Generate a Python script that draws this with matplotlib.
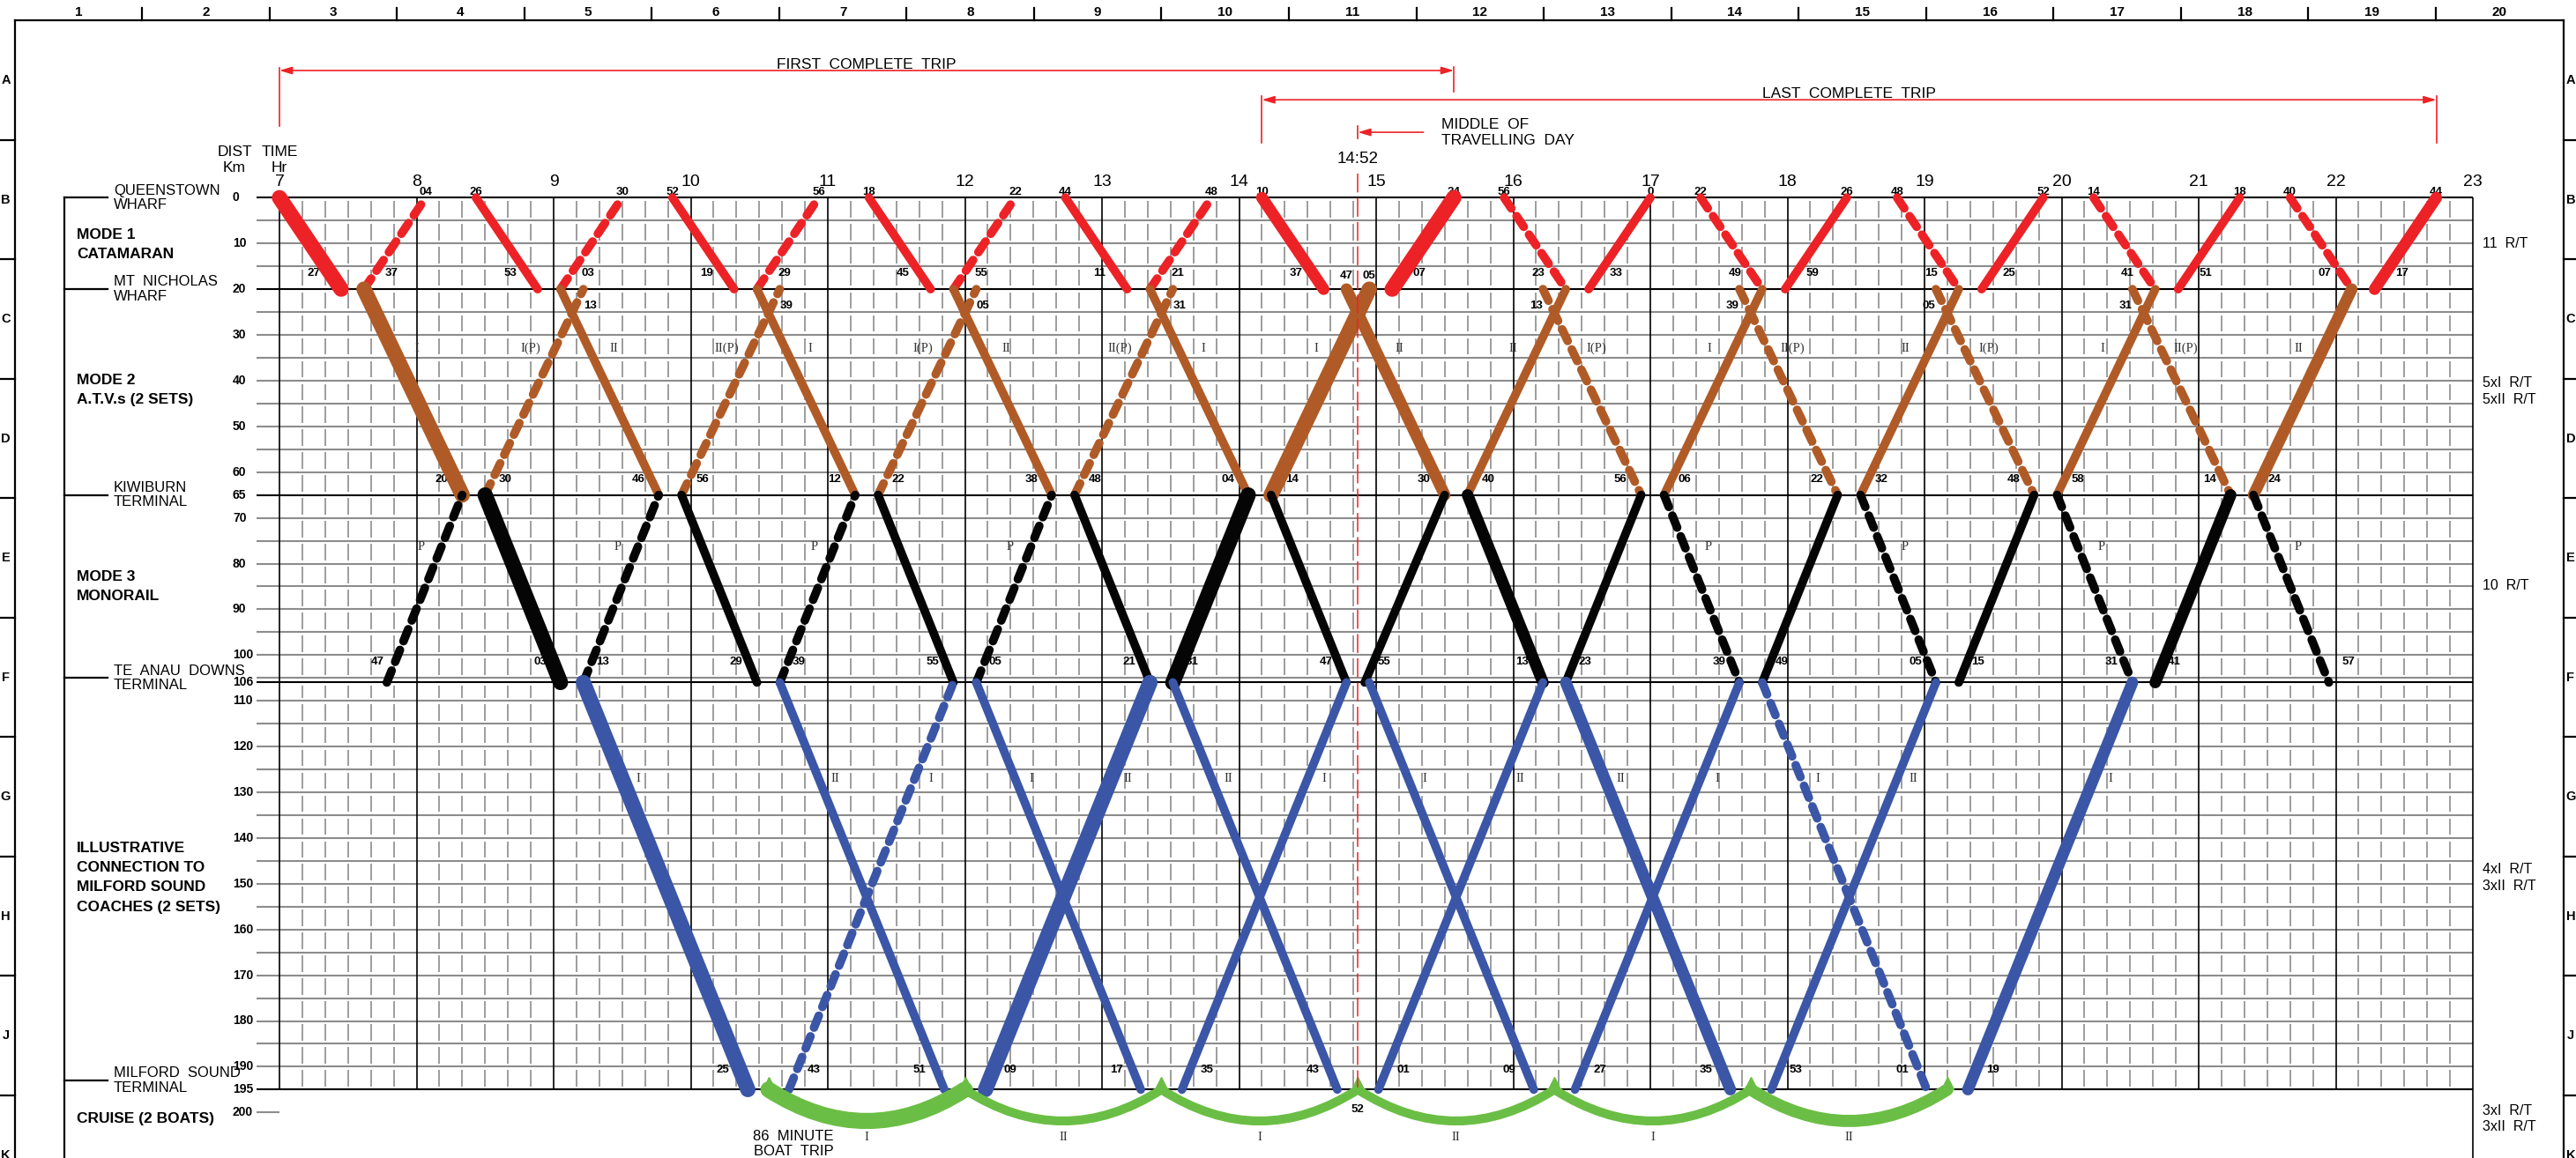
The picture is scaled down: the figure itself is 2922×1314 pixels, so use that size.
import matplotlib
matplotlib.use("Agg")
import matplotlib.pyplot as plt
from matplotlib import font_manager
from matplotlib.patches import FancyArrowPatch

# ---------------------------------------------------------------
# Timetable
# leg: (depart, arrive, from_km, to_km, style[, set])
# style: "solid", "dash" (positioning run), "first"/"last" complete trip
# ---------------------------------------------------------------
CAT_TRIPS = [
    ("7:00", "7:27", 0, 20, "first"),
    ("7:37", "8:04", 20, 0, "dash"),
    ("8:26", "8:53", 0, 20, "solid"),
    ("9:03", "9:30", 20, 0, "dash"),
    ("9:52", "10:19", 0, 20, "solid"),
    ("10:29", "10:56", 20, 0, "dash"),
    ("11:18", "11:45", 0, 20, "solid"),
    ("11:55", "12:22", 20, 0, "dash"),
    ("12:44", "13:11", 0, 20, "solid"),
    ("13:21", "13:48", 20, 0, "dash"),
    ("14:10", "14:37", 0, 20, "last"),
    ("15:07", "15:34", 20, 0, "first"),
    ("15:56", "16:23", 0, 20, "dash"),
    ("16:33", "17:00", 20, 0, "solid"),
    ("17:22", "17:49", 0, 20, "dash"),
    ("17:59", "18:26", 20, 0, "solid"),
    ("18:48", "19:15", 0, 20, "dash"),
    ("19:25", "19:52", 20, 0, "solid"),
    ("20:14", "20:41", 0, 20, "dash"),
    ("20:51", "21:18", 20, 0, "solid"),
    ("21:40", "22:07", 0, 20, "dash"),
    ("22:17", "22:44", 20, 0, "last"),
]

ATV_TRIPS = [
    ("7:37", "8:20", 20, 65, "first", "I"),
    ("8:30", "9:13", 65, 20, "dash", "I"),
    ("9:03", "9:46", 20, 65, "solid", "II"),
    ("9:56", "10:39", 65, 20, "dash", "II"),
    ("10:29", "11:12", 20, 65, "solid", "I"),
    ("11:22", "12:05", 65, 20, "dash", "I"),
    ("11:55", "12:38", 20, 65, "solid", "II"),
    ("12:48", "13:31", 65, 20, "dash", "II"),
    ("13:21", "14:04", 20, 65, "solid", "I"),
    ("14:14", "14:57", 65, 20, "first", "I"),
    ("14:47", "15:30", 20, 65, "last", "II"),
    ("15:40", "16:23", 65, 20, "solid", "II"),
    ("16:13", "16:56", 20, 65, "dash", "I"),
    ("17:06", "17:49", 65, 20, "solid", "I"),
    ("17:39", "18:22", 20, 65, "dash", "II"),
    ("18:32", "19:15", 65, 20, "solid", "II"),
    ("19:05", "19:48", 20, 65, "dash", "I"),
    ("19:58", "20:41", 65, 20, "solid", "I"),
    ("20:31", "21:14", 20, 65, "dash", "II"),
    ("21:24", "22:07", 65, 20, "last", "II"),
]

MONO_TRIPS = [
    ("7:47", "8:20", 106, 65, "dash"),
    ("8:30", "9:03", 65, 106, "first"),
    ("9:13", "9:46", 106, 65, "dash"),
    ("9:56", "10:29", 65, 106, "solid"),
    ("10:39", "11:12", 106, 65, "dash"),
    ("11:22", "11:55", 65, 106, "solid"),
    ("12:05", "12:38", 106, 65, "dash"),
    ("12:48", "13:21", 65, 106, "solid"),
    ("13:31", "14:04", 106, 65, "first"),
    ("14:14", "14:47", 65, 106, "solid"),
    ("14:55", "15:30", 106, 65, "solid"),
    ("15:40", "16:13", 65, 106, "last"),
    ("16:23", "16:56", 106, 65, "solid"),
    ("17:06", "17:39", 65, 106, "dash"),
    ("17:49", "18:22", 106, 65, "solid"),
    ("18:32", "19:05", 65, 106, "dash"),
    ("19:15", "19:48", 106, 65, "solid"),
    ("19:58", "20:31", 65, 106, "dash"),
    ("20:41", "21:14", 106, 65, "last"),
    ("21:24", "21:57", 65, 106, "dash"),
]

COACH_TRIPS = [
    ("9:13", "10:25", 106, 195, "first", "I"),
    ("10:39", "11:51", 106, 195, "solid", "II"),
    ("10:43", "11:55", 195, 106, "dash", "I"),
    ("12:05", "13:17", 106, 195, "solid", "I"),
    ("12:09", "13:21", 195, 106, "first", "II"),
    ("13:31", "14:43", 106, 195, "solid", "II"),
    ("13:35", "14:47", 195, 106, "solid", "I"),
    ("14:57", "16:09", 106, 195, "solid", "I"),
    ("15:01", "16:13", 195, 106, "solid", "II"),
    ("16:23", "17:35", 106, 195, "last", "II"),
    ("16:27", "17:39", 195, 106, "solid", "I"),
    ("17:49", "19:01", 106, 195, "dash", "I"),
    ("17:53", "19:05", 195, 106, "solid", "II"),
    ("19:19", "20:31", 195, 106, "last", "I"),
]

# cruise: (leave wharf, back at wharf, style, boat)
BOAT_TRIPS = [
    ("10:34", "12:00", "first", "I"),
    ("12:00", "13:26", "solid", "II"),
    ("13:26", "14:52", "solid", "I"),
    ("14:52", "16:18", "solid", "II"),
    ("16:18", "17:44", "solid", "I"),
    ("17:44", "19:10", "last", "II"),
]

HOURS = list(range(7, 24))
DIST_TICKS = [0, 10, 20, 30, 40, 50, 60, 65, 70, 80, 90, 100, 106, 110, 120,
              130, 140, 150, 160, 170, 180, 190, 195, 200]
TERMINAL_KM = [0, 20, 65, 106, 195]
GRID_KM = list(range(0, 196, 5)) + [106]
MIDDAY = "14:52"
MARK_TEXT = {"17:00": "0"}                  # as printed on the chart
MN_MID_MARKS = [("47", "14:47"), ("05", "14:57")]

STATIONS = [(["QUEENSTOWN", "WHARF"], 0), (["MT  NICHOLAS", "WHARF"], 20),
            (["KIWIBURN", "TERMINAL"], 65), (["TE  ANAU  DOWNS", "TERMINAL"], 105),
            (["MILFORD  SOUND", "TERMINAL"], 193)]
MODES = [(["MODE 1", "CATAMARAN"], 10.2), (["MODE 2", "A.T.V.s (2 SETS)"], 42.1),
         (["MODE 3", "MONORAIL"], 85.0),
         (["ILLUSTRATIVE", "CONNECTION TO", "MILFORD SOUND", "COACHES (2 SETS)"], 148.6),
         (["CRUISE (2 BOATS)"], 201.3)]
COLUMNS = [str(i) for i in range(1, 21)]
ROWS = list("ABCDEFGHJK")

RED, BROWN, BLACK, BLUE, GREEN = "#ED2226", "#B05B27", "#050505", "#3B56A6", "#6BBE45"
GRID_GREY = "#8c8c8c"
LW = {"solid": 7.0, "dash": 7.0, "last": 9.5, "first": 12.5}

names = {f.name for f in font_manager.fontManager.ttflist}
NARROW = "Liberation Sans Narrow" if "Liberation Sans Narrow" in names else "Liberation Sans"
SANS = "Liberation Sans"
SERIF = "Liberation Serif"


def hm(s):
    h, m = s.split(":")
    return int(h) + int(m) / 60.0


# page geometry (pixels of the 2922 x 1314 sheet)
W, H = 2922, 1314
X7, PX_HR = 317.0, 155.5      # x of 7:00 and pixels per hour
Y0, PX_KM = 224.3, 5.19       # y of 0 km and pixels per km


def px_t(px):
    return 7 + (px - X7) / PX_HR


fig = plt.figure(figsize=(W / 100, H / 100), dpi=100)
frame = fig.add_axes([0, 0, 1, 1])
frame.set_xlim(0, W)
frame.set_ylim(H, 0)
frame.axis("off")
ax = fig.add_axes([0, 0, 1, 1])
ax.set_xlim(px_t(0), px_t(W))
ax.set_ylim((H - Y0) / PX_KM, -Y0 / PX_KM)
ax.axis("off")
y_bottom = (H - Y0) / PX_KM

# --- drawing sheet border with zone references ---
left, right, top = 16.5, 2907.6, 23.3
col_w = (right - left) / 20
row_h = 135.5
frame.plot([left, right], [top, top], color="black", lw=1.6)
frame.plot([left, left], [top, H], color="black", lw=1.6)
frame.plot([right, right], [top, H], color="black", lw=1.6)
for k, c in enumerate(COLUMNS):
    if k > 0:
        frame.plot([left + k * col_w] * 2, [9, top], color="black", lw=1.6)
    frame.text(left + (k + 0.5) * col_w, 14, c, ha="center", va="center",
               fontsize=11, fontweight="bold", family=NARROW)
for k, r in enumerate(ROWS):
    if k > 0:
        yk = top + k * row_h
        frame.plot([0, left], [yk, yk], color="black", lw=1.6)
        frame.plot([right, W], [yk, yk], color="black", lw=1.6)
    yc = top + (k + 0.5) * row_h
    frame.text(6.5, yc, r, ha="center", va="center", fontsize=10.5, fontweight="bold", family=NARROW)
    frame.text(2916, yc, r, ha="center", va="center", fontsize=10.5, fontweight="bold", family=NARROW)

# --- grid ---
t_left, t_right = px_t(291), HOURS[-1]
levels = sorted(GRID_KM)
grey_levels = [k for k in levels if k not in TERMINAL_KM]
ax.hlines(grey_levels, t_left, t_right, colors=GRID_GREY, lw=1.5, zorder=1)
ax.hlines(TERMINAL_KM, t_left, t_right, colors="black", lw=1.5, zorder=2)
ax.hlines(200, t_left, HOURS[0], colors=GRID_GREY, lw=1.5, zorder=1)
minor_t = [h + m / 60 for h in HOURS[:-1] for m in range(10, 60, 10)]
for lo, hi in zip(levels[:-1], levels[1:]):
    if hi - lo >= 4:
        ax.vlines(minor_t, lo + 0.7, hi - 0.7, colors=GRID_GREY, lw=1.2, zorder=1)
ax.vlines(HOURS, 0, 195, colors="black", lw=1.2, zorder=2)
ax.vlines(HOURS[-1], 195, y_bottom, colors="black", lw=1.2, zorder=2)

for h in HOURS:
    ax.text(h, -3.4, str(h), ha="center", va="center", fontsize=14, family=NARROW)
for d in DIST_TICKS:
    ax.text(px_t(264), d, str(d), ha="left", va="center", fontsize=10,
            fontweight="bold", family=NARROW)
for i, (dist_w, time_w) in enumerate([("DIST", "TIME"), ("Km", "Hr")]):
    ax.text(px_t(266), -9.9 + 3.4 * i, dist_w, ha="center", va="center",
            fontsize=12.5, family=NARROW)
    ax.text(HOURS[0], -9.9 + 3.4 * i, time_w, ha="center", va="center",
            fontsize=12.5, family=NARROW)


# --- left-hand station / mode captions (one text per printed line) ---
def caption(lines, x, km, step, **kw):
    n = len(lines)
    for i, ln in enumerate(lines):
        ax.text(x, km + (i - (n - 1) / 2) * step, ln, ha="left", va="center", **kw)


x_bar = px_t(72.8)
ax.plot([x_bar, x_bar], [0, y_bottom], color="black", lw=1.6, clip_on=False)
for lines, km in STATIONS:
    ax.plot([x_bar, px_t(122)], [km, km], color="black", lw=1.6)
    caption(lines, px_t(129), km, 3.15, fontsize=12, family=NARROW)
for lines, km in MODES:
    caption(lines, px_t(87), km, 4.3, fontsize=12.5, fontweight="bold", family=NARROW)


# --- service legs ---
def draw_leg(dep, arr, d0, d1, style, color):
    line, = ax.plot([hm(dep), hm(arr)], [d0, d1], color=color, lw=LW[style],
                    solid_capstyle="round", dash_capstyle="round", zorder=5)
    if style == "dash":
        line.set_dashes([1.5, 1.1])


def on_leg(dep, arr, d0, d1, km):
    return hm(dep) + (km - d0) / (d1 - d0) * (hm(arr) - hm(dep))


def mark(text, t, km):
    ax.text(t, km, text, ha="center", va="center", fontsize=9.5,
            fontweight="bold", family=NARROW, zorder=3)


def roman(text, t, km):
    ax.text(t, km, text, ha="center", va="center", fontsize=10.5,
            family=SERIF, color="#333333", zorder=3)


def minute(s):
    return MARK_TEXT.get(s, s.split(":")[1])


for dep, arr, d0, d1, st in CAT_TRIPS:
    draw_leg(dep, arr, d0, d1, st, RED)
for dep, arr, d0, d1, st, s in ATV_TRIPS:
    draw_leg(dep, arr, d0, d1, st, BROWN)
    dx = 0.18 if d1 > d0 else -0.18
    roman(s + ("(P)" if st == "dash" else ""), on_leg(dep, arr, d0, d1, 33) + dx, 33)
for dep, arr, d0, d1, st in MONO_TRIPS:
    draw_leg(dep, arr, d0, d1, st, BLACK)
    if st == "dash":
        dx = 0.17 if d1 > d0 else -0.15
        roman("P", on_leg(dep, arr, d0, d1, 76.3) + dx, 76.3)
for dep, arr, d0, d1, st, s in COACH_TRIPS:
    draw_leg(dep, arr, d0, d1, st, BLUE)
    roman(s, on_leg(dep, arr, d0, d1, 127) + 0.12, 127)

for dep, ret, st, s in BOAT_TRIPS:
    arc = FancyArrowPatch((hm(dep), 195), (hm(ret), 195),
                          connectionstyle="arc3,rad=0.32", arrowstyle="-",
                          color=GREEN, lw=LW[st] * 1.05, shrinkA=0, shrinkB=0,
                          zorder=5, capstyle="round")
    ax.add_patch(arc)
    roman(s, (hm(dep) + hm(ret)) / 2, 205.4)
# little arrow tips where a boat leaves / returns to the wharf
boat_ends = sorted({hm(b[0]) for b in BOAT_TRIPS} | {hm(b[1]) for b in BOAT_TRIPS})
ax.plot(boat_ends, [193.6] * len(boat_ends), linestyle="none", marker="^",
        markersize=10, color=GREEN, zorder=5)
for i, ln in enumerate(["86  MINUTE", "BOAT  TRIP"]):
    ax.text(px_t(900), 205.3 + 3.2 * i, ln, ha="center", va="center",
            fontsize=12, family=NARROW)

# --- minute marks at the terminals ---
for dep, arr, d0, d1, st in CAT_TRIPS:
    for s, km, is_dep in ((dep, d0, True), (arr, d1, False)):
        if km == 0 and hm(s) != HOURS[0]:
            mark(minute(s), hm(s), -1.3)
        elif km == 20:
            mark(minute(s), hm(s) + (0.2 if is_dep else -0.2), 16.6)
cat_mn = {s for dep, arr, d0, d1, st in CAT_TRIPS for s, km in ((dep, d0), (arr, d1)) if km == 20}
mid_times = {s for _, s in MN_MID_MARKS}
for txt, s in MN_MID_MARKS:
    mark(txt, hm(s), 17.0)
for dep, arr, d0, d1, st, s in ATV_TRIPS:
    for tm, km, is_dep in ((dep, d0, True), (arr, d1, False)):
        if km == 20 and tm not in cat_mn and tm not in mid_times:
            mark(minute(tm), hm(tm) + (-0.05 if is_dep else 0.05), 23.6)
        elif km == 65:
            mark(minute(tm), hm(tm) + (0.15 if is_dep else -0.15), 61.6)
tad = sorted([(hm(s), s, is_dep) for dep, arr, d0, d1, st in MONO_TRIPS
              for s, km, is_dep in ((dep, d0, True), (arr, d1, False)) if km == 106])
for i, (t, s, is_dep) in enumerate(tad):
    if i == 0:
        dx = -0.07
    elif i == len(tad) - 1 or is_dep:
        dx = 0.14
    else:
        dx = -0.15
    mark(minute(s), t + dx, 101.5)
for dep, arr, d0, d1, st, s in COACH_TRIPS:
    for tm, km, is_dep in ((dep, d0, True), (arr, d1, False)):
        if km == 195:
            mark(minute(tm), hm(tm) + (0.18 if is_dep else -0.18), 190.6)
mark(minute(MIDDAY), hm(MIDDAY), 199.4)


# --- round-trip counts on the right ---
def rt(trips, s=None, idx=5):
    legs = [t for t in trips if s is None or t[idx] == s]
    return len(legs) // 2


x_rt = px_t(2816)
rt_font = dict(fontsize=11.5, family=SANS)
n_boat_i = sum(1 for b in BOAT_TRIPS if b[3] == "I")
RT_LINES = [
    ([f"{rt(CAT_TRIPS)}  R/T"], 10.1),
    ([f"{rt(ATV_TRIPS, 'I')}xI  R/T", f"{rt(ATV_TRIPS, 'II')}xII  R/T"], 42.3),
    ([f"{rt(MONO_TRIPS)}  R/T"], 84.9),
    ([f"{rt(COACH_TRIPS, 'I')}xI  R/T", f"{rt(COACH_TRIPS, 'II')}xII  R/T"], 148.7),
    ([f"{n_boat_i}xI  R/T", f"{len(BOAT_TRIPS) - n_boat_i}xII  R/T"], 201.4),
]
for lines, km in RT_LINES:
    caption(lines, x_rt, km, 3.6, **rt_font)


# --- first / last complete trip, middle of travelling day ---
def span(style):
    legs = [t for t in CAT_TRIPS if t[4] == style]
    return min(hm(t[0]) for t in legs), max(hm(t[1]) for t in legs)


arrow = dict(arrowstyle="<|-|>,head_length=0.6,head_width=0.18", color=RED, lw=1.2,
             shrinkA=0, shrinkB=0, mutation_scale=14)
f0, f1 = span("first")
ax.annotate("", xy=(f1, -27.8), xytext=(f0, -27.8), arrowprops=arrow)
ax.plot([f0, f0], [-28.4, -15.6], color=RED, lw=1.2)
ax.plot([f1, f1], [-28.6, -23.1], color=RED, lw=1.2)
ax.text((f0 + f1) / 2, -28.2, "FIRST  COMPLETE  TRIP", ha="center", va="baseline",
        fontsize=12.5, family=NARROW)
l0, l1 = span("last")
ax.annotate("", xy=(l1, -21.4), xytext=(l0, -21.4), arrowprops=arrow)
ax.plot([l0, l0], [-22.2, -12.1], color=RED, lw=1.2)
ax.plot([l1, l1], [-22.2, -12.1], color=RED, lw=1.2)
ax.text((l0 + l1) / 2, -21.8, "LAST  COMPLETE  TRIP", ha="center", va="baseline",
        fontsize=12.5, family=NARROW)

tm = hm(MIDDAY)
ax.annotate("", xy=(tm, -14.3), xytext=(px_t(1614.6), -14.3),
            arrowprops=dict(arrowstyle="-|>,head_length=0.6,head_width=0.18", color=RED,
                            lw=1.2, shrinkA=0, shrinkB=0, mutation_scale=14))
ax.plot([tm, tm], [-15.6, -13.0], color=RED, lw=1.2)
caption(["MIDDLE  OF", "TRAVELLING  DAY"], px_t(1634.7), -14.2, 3.4,
        fontsize=12.5, family=NARROW)
ax.text(tm, -8.5, MIDDAY, ha="center", va="center", fontsize=13.5, family=NARROW)
mid, = ax.plot([tm, tm], [-5.3, 194.5], color=RED, lw=1.1, zorder=6)
mid.set_dashes([14, 4])

fig.savefig("out.png", dpi=100)
